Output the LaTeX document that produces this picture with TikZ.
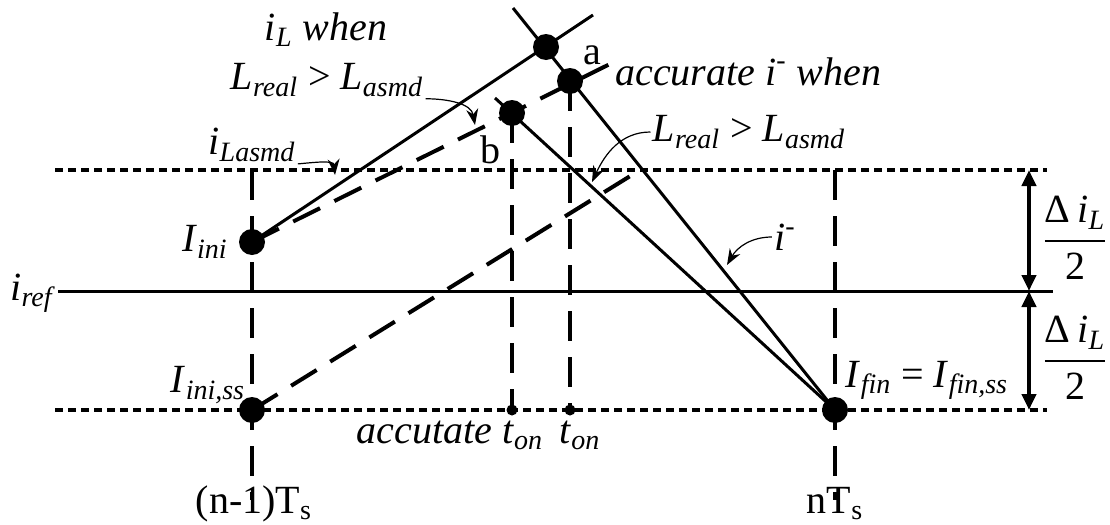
\documentclass[tikz,border=0pt]{standalone}
\usepackage{amsmath}
\usepackage{fontspec}
\setmainfont{Liberation Serif}
\usetikzlibrary{arrows.meta}
\newcommand{\sbs}[1]{$_{\textit{#1}}$}
\newcommand{\ivar}[1]{\textit{#1}}
\tikzset{
	dotline/.style={line width=2pt, dash pattern=on 4pt off 2.5pt},
	dashline/.style={line width=2pt, dash pattern=on 15pt off 8pt},
	solidline/.style={line width=1.5pt},
	bigdot/.style={circle, fill, inner sep=0pt, minimum size=13pt},
	smalldot/.style={circle, fill, inner sep=0pt, minimum size=5.5pt},
	lbl/.style={inner sep=1pt, font=\fontsize{20}{24}\selectfont},
	callout/.style={-{Stealth[length=8pt,width=6pt]}, line width=0.6pt},
	halfspan/.style={{Triangle[length=8pt,width=7pt]}-{Triangle[length=8pt,width=7pt]}, line width=2pt}
}
\begin{document}
\begin{tikzpicture}[x=0.5pt,y=-0.5pt]
		\useasboundingbox (0,0) rectangle (1110,525);
		\coordinate (topL) at (55,170); \coordinate (topR) at (1047,170);
		\coordinate (refL) at (58,291); \coordinate (refR) at (1053,291);
		\coordinate (botL) at (55,410); \coordinate (botR) at (1047,410);
		\coordinate (ini) at (252,242); \coordinate (iniss) at (252,410);
		\coordinate (fin) at (835,410);
		\coordinate (peak) at (546,47); \coordinate (peakend) at (593,15);
		\coordinate (fallstart) at (513,8);
		\coordinate (pa) at (570,81); \coordinate (pb) at (512,113);
		\coordinate (bstart) at (495,98);
		\coordinate (asmdend) at (612,63); \coordinate (ssend) at (640,170);
		\coordinate (tacc) at (512,410); \coordinate (ton) at (570,410);
		\coordinate (vLtop) at (252,170); \coordinate (vLbot) at (252,500);
		\coordinate (vRtop) at (835,170); \coordinate (vRbot) at (835,500);
		\coordinate (spanx1) at (1029,170); \coordinate (spanx2) at (1029,291); \coordinate (spanx3) at (1029,410);
		\draw[dotline] (topL) -- (topR);
		\draw[dotline] (botL) -- (botR);
		\draw[solidline] (refL) -- (refR);
		\draw[dashline] (vLtop) -- (vLbot);
		\draw[dashline] (vRtop) -- (vRbot);
		\draw[dashline] (pb) -- (tacc);
		\draw[dashline] (pa) -- (ton);
		\draw[dashline] (ini) -- (asmdend);
		\draw[dashline] (iniss) -- (ssend);
		\draw[solidline] (ini) -- (peakend);
		\draw[solidline] (fallstart) -- (fin);
		\draw[solidline] (bstart) -- (fin);
		\draw[halfspan] (spanx1) -- (spanx2);
		\draw[halfspan] (spanx2) -- (spanx3);
		\foreach \p in {ini,iniss,fin,peak,pa,pb} \node[bigdot] at (\p) {};
		\foreach \p in {tacc,ton} \node[smalldot] at (\p) {};
		\node[lbl] (iLwhen) at (326,30) {\ivar{i}\sbs{L} \ivar{when}};
		\node[lbl] (Lreal1) at (327,80) {\ivar{L}\sbs{real} > \ivar{L}\sbs{asmd}};
		\node[lbl] (iLasmd) at (252,145) {\ivar{i}\sbs{Lasmd}};
		\node[lbl] (blbl) at (490,150) {b};
		\node[lbl] (albl) at (592,55) {a};
		\node[lbl, anchor=base west] (accur) at (613,85) {\ivar{accurate i}$^{\text{-}}$ \ivar{when}};
		\node[lbl] (Lreal2) at (749,132) {\ivar{L}\sbs{real} > \ivar{L}\sbs{asmd}};
		\node[lbl] (iminus) at (785,237) {\ivar{i}$^{\text{-}}$};
		\node[lbl, anchor=east] (Iini) at (230,242) {\ivar{I}\sbs{ini}};
		\node[lbl] (Iiniss) at (208,385) {\ivar{I}\sbs{ini,ss}};
		\node[lbl] (Ifin) at (927,380) {\ivar{I}\sbs{fin} = \ivar{I}\sbs{fin,ss}};
		\node[lbl, anchor=base west] (iref) at (8,300) {\ivar{i}\sbs{ref}};
		\node[lbl] (half1) at (1075,238) {$\dfrac{\text{Δ}\,\textit{i}_{\textit{L}}}{\text{2}}$};
		\node[lbl] (half2) at (1075,358) {$\dfrac{\text{Δ}\,\textit{i}_{\textit{L}}}{\text{2}}$};
		\node[lbl, anchor=base] (accton) at (450,443) {\ivar{accutate t}\sbs{on}};
		\node[lbl, anchor=base] (tonlbl) at (580,443) {\ivar{t}\sbs{on}};
		\node[lbl, anchor=base] (prevT) at (254,513) {(n-1)T\textsubscript{s}};
		\node[lbl, anchor=base] (nT) at (835,513) {nT\textsubscript{s}};
		\coordinate (tipa) at (335,175); \coordinate (tipb) at (475,125);
		\coordinate (tipc) at (592,182); \coordinate (tipd) at (727,265);
		\draw[callout] (iLasmd.south east) to[out=5,in=95] (tipa);
		\draw[callout] (Lreal1.south east) to[out=0,in=100] (tipb);
		\draw[callout] (Lreal2.west) to[out=180,in=65] (tipc);
		\draw[callout] (iminus.west) to[out=180,in=60] (tipd);
\end{tikzpicture}
\end{document}
